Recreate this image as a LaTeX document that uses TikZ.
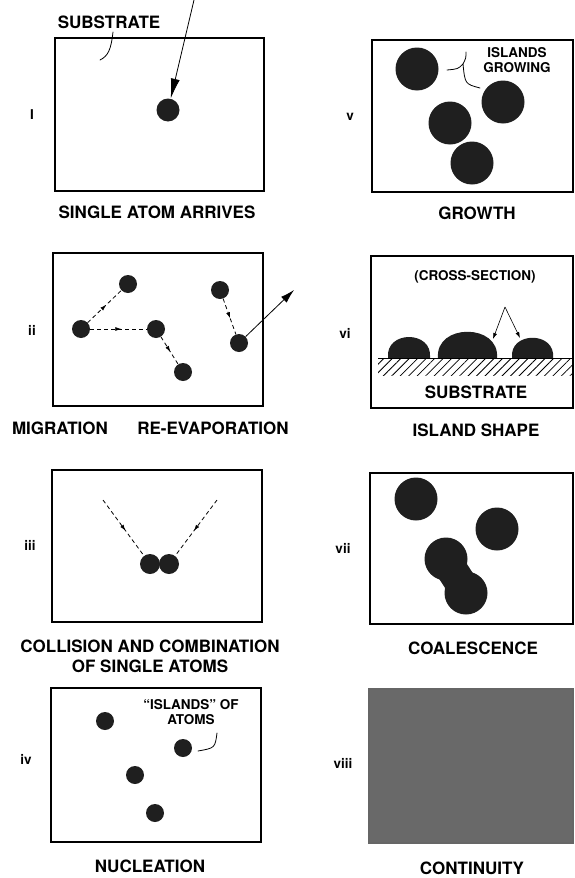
\documentclass[tikz,border=0pt]{standalone}
\usepackage{fontspec}
\setmainfont{TeX Gyre Heros}
\usetikzlibrary{arrows.meta,decorations.markings,patterns.meta}
\definecolor{film}{gray}{0.41}

\begin{document}
\begin{tikzpicture}[x=1pt,y=-1pt,
  panel/.style={draw,line width=1.1pt},
  atom/.style={circle,fill=black!88,inner sep=0pt,minimum size=#1},
  atom/.default=18pt,
  caption/.style={font=\bfseries\fontsize{17}{20}\selectfont,align=center},
  note/.style={font=\bfseries\fontsize{13.5}{15}\selectfont,align=center},
  numeral/.style={font=\bfseries\fontsize{13.5}{15}\selectfont},
  hop/.style={thick,dash pattern=on 4pt off 3pt,postaction={decorate},
    decoration={markings,mark=at position 0.55 with {\arrow{Latex[length=6pt,width=4pt]}}}},
  lead/.style={thick,line cap=round}]
\useasboundingbox (0,0) rectangle (575,878);

% i
\draw[panel] (55,38) rectangle (264,191);
\node[numeral] (n1) at (32,115) {I};
\node[caption] (sub) at (109,22) {SUBSTRATE};
\node[atom=23pt] (a1) at (168,110) {};
\coordinate (src) at (194,0);
\coordinate (s1) at (100,60);
\draw[thick,-{Latex[length=20pt,width=9pt]}] (src) -- (a1);
\draw[lead] ([xshift=4pt]sub.south) .. controls (111,50) and (108,56) .. (s1);
\node[caption] (c1) at (157,212) {SINGLE ATOM ARRIVES};

% ii
\draw[panel] (53,253) rectangle (263,406);
\node[numeral] (n2) at (32,330) {ii};
\node[atom] (m0) at (81,329) {};
\node[atom] (m1) at (128,284) {};
\node[atom] (m2) at (156,329) {};
\node[atom] (m3) at (183,372) {};
\node[atom] (e0) at (220,290) {};
\node[atom] (e1) at (239,343) {};
\draw[hop] (m0) -- (m1);
\draw[hop] (m0) -- (m2);
\draw[hop] (m2) -- (m3);
\draw[hop] (e0) -- (e1);
\coordinate (away) at (294,290);
\draw[thick,-{Latex[length=14pt,width=8pt]}] (e1) -- (away);
\node[caption] (c2a) at (60,428) {MIGRATION};
\node[caption] (c2b) at (213,428) {RE-EVAPORATION};

% iii
\draw[panel] (52,470) rectangle (262,622);
\node[numeral] (n3) at (30,545) {iii};
\node[atom=20pt] (p) at (150,564) {};
\node[atom=20pt] (q) at (169,564) {};
\coordinate (pf) at (103,500);
\coordinate (qf) at (217,500);
\draw[hop] (pf) -- (p);
\draw[hop] (qf) -- (q);
\node[caption] (c3) at (150,656) {COLLISION AND COMBINATION\\OF SINGLE ATOMS};

% iv
\draw[panel] (51,688) rectangle (261,842);
\node[numeral] (n4) at (26,759) {iv};
\node[atom] (k1) at (105,721) {};
\node[atom] (k2) at (183,748) {};
\node[atom] (k3) at (135,775) {};
\node[atom] (k4) at (155,813) {};
\node[note] (isl) at (191,712) {``ISLANDS'' OF\\ATOMS};
\coordinate (i4a) at (217,733);
\coordinate (i4b) at (198,751);
\draw[lead] (i4a) .. controls (215,748) .. (i4b);
\node[caption] (c4) at (150,866) {NUCLEATION};

% v
\draw[panel] (372,40) rectangle (573,192);
\node[numeral] (n5) at (350,117) {v};
\node[atom=43pt] (g1) at (417,69) {};
\node[atom=43pt] (g2) at (503,102) {};
\node[atom=43pt] (g3) at (450,123) {};
\node[atom=43pt] (g4) at (472,163) {};
\node[note] (grw) at (517,60) {ISLANDS\\GROWING};
\coordinate (v0) at (466,52);
\coordinate (v1) at (463,64);
\coordinate (vl) at (447,70);
\coordinate (vr) at (480,88);
\draw[lead] (v0) .. controls (466,58) .. (v1) .. controls (458,69) .. (vl);
\draw[lead] (v1) .. controls (465,84) .. (vr);
\node[caption] (c5) at (477,213) {GROWTH};

% vi
\draw[panel] (371,256) rectangle (573,408);
\node[numeral] (n6) at (345,333) {vi};
\node[note] (cs) at (475,277) {(CROSS-SECTION)};
\fill[pattern={Lines[angle=45,distance=6pt,line width=0.8pt]}] (378,358) rectangle (573,375);
\foreach \l/\r/\c in {388/430/330, 438/497/323, 512/553/331}
  \fill[black!88] (\l,358) .. controls (\l-3,\c) and (\r+3,\c) .. (\r,358) -- cycle;
\draw[thick] (378,358) -- (573,358);
\coordinate (apex) at (505,307);
\coordinate (t2) at (493,339);
\coordinate (t3) at (520,338);
\draw[semithick,-{Latex[length=6pt,width=4pt]}] (apex) -- (t2);
\draw[semithick,-{Latex[length=6pt,width=4pt]}] (apex) -- (t3);
\node[caption] (sub6) at (476,392) {SUBSTRATE};
\node[caption] (c6) at (476,430) {ISLAND SHAPE};

% vii
\draw[panel] (370,473) rectangle (573,624);
\node[numeral] (n7) at (343,548) {vii};
\node[atom=43pt] (b1) at (416,499) {};
\node[atom=43pt] (b2) at (497,529) {};
\node[atom=43pt] (b3) at (446,559) {};
\node[atom=43pt] (b4) at (466,593) {};
\fill[black!88] (432,568) -- (459,552) -- (480,584) -- (453,600) -- cycle;
\node[caption] (c7) at (473,648) {COALESCENCE};

% viii
\filldraw[panel,fill=film,draw=black!60] (369,689) rectangle (573,843);
\node[numeral] (n8) at (343,763) {viii};
\node[caption] (c8) at (472,868) {CONTINUITY};

\end{tikzpicture}
\end{document}
